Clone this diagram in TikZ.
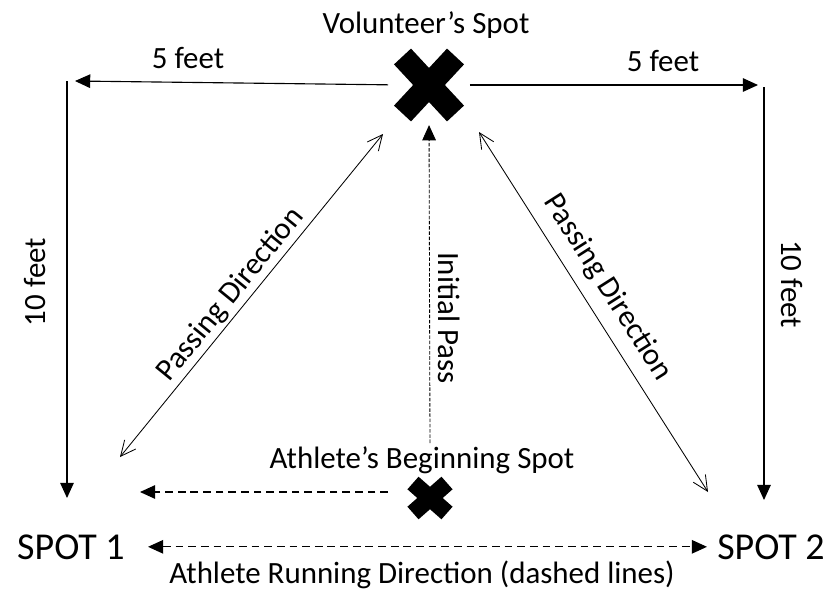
\documentclass[tikz,border=0pt]{standalone}
\usepackage{fontspec}
\setmainfont{Carlito}
\usetikzlibrary{arrows.meta,shapes.misc}
\tikzset{
    lbl/.style={font=\fontsize{22}{26}\selectfont, inner sep=2pt},
    spotlbl/.style={font=\fontsize{27}{32}\selectfont, inner sep=0pt},
    bigx/.style={cross out, draw, line width=0.58cm, minimum width=1.325cm, minimum height=1.425cm,
        inner sep=0pt, outer sep=0pt},
    smallx/.style={cross out, draw, line width=0.42cm, minimum width=0.85cm, minimum height=0.75cm,
        inner sep=0pt, outer sep=0pt},
    dimline/.style={->, line width=0.8pt},
    passline/.style={{Straight Barb[length=0.38cm,width=0.36cm]}-{Straight Barb[length=0.38cm,width=0.36cm]}, line width=0.6pt},
    runline/.style={line width=0.8pt, dash pattern=on 5.5pt off 3.5pt},
    initline/.style={->, line width=0.6pt, dash pattern=on 2.5pt off 1.2pt}
}
\begin{document}
\begin{tikzpicture}[x=0.025cm, y=-0.025cm, >={Triangle[length=0.38cm,width=0.34cm]}]
    \useasboundingbox (0,0) rectangle (830,593);
    % the two spots and the labels
    \node[bigx] (vol) at (429,85) {};
    \node[smallx] (ath) at (430,498) {};
    \node[lbl, anchor=base] (voltxt) at (426,33) {Volunteer’s Spot};
    \node[lbl, anchor=base] (athtxt) at (422,468) {Athlete’s Beginning Spot};
    \node[spotlbl, anchor=base] (spot1) at (71,559) {SPOT 1};
    \node[spotlbl, anchor=base] (spot2) at (771,559) {SPOT 2};
    \node[lbl, anchor=base] (runtxt) at (422,583) {Athlete Running Direction (dashed lines)};
    \node[lbl, anchor=base, rotate=90] (tenl) at (45,282) {10 feet};
    \node[lbl, anchor=base, rotate=-90] (tenr) at (781,284) {10 feet};
    \node[lbl, anchor=base, rotate=-90] (inittxt) at (438,318) {Initial Pass};
    % free ends
    \coordinate (al) at (75,81);
    \coordinate (ar) at (758,85);
    \coordinate (tl) at (67,81);
    \coordinate (tr) at (764,87);
    \coordinate (bl) at (67,498);
    \coordinate (br) at (764,500);
    \coordinate (pl) at (120,457);
    \coordinate (pvl) at (383,134);
    \coordinate (pvr) at (479,132);
    \coordinate (pr) at (708,492);
    \coordinate (ipb) at (430,443);
    \coordinate (athl) at (388,492);
    \coordinate (s1r) at (140,492);
    % distances
    \draw[dimline, shorten <=0.36cm] (vol.west) -- node[lbl, pos=0.655, above=7pt] {5 feet} (al);
    \draw[dimline, shorten <=0.36cm] (vol.east) -- node[lbl, pos=0.686, above=7pt] {5 feet} (ar);
    \draw[dimline] (tl) -- (bl);
    \draw[dimline] (tr) -- (br);
    % passing
    \draw[passline] (pl) -- node[lbl, sloped, above, pos=0.47] {Passing Direction} (pvl);
    \draw[passline] (pvr) -- node[lbl, sloped, above=6pt, pos=0.47] {Passing Direction} (pr);
    \draw[initline, shorten >=0.29cm] (ipb) -- (vol.south);
    % running
    \draw[runline, ->] (athl) -- (s1r);
    \draw[runline, <->, shorten <=0.575cm, shorten >=0.25cm] (spot1.east) -- (spot2.west);
\end{tikzpicture}
\end{document}
